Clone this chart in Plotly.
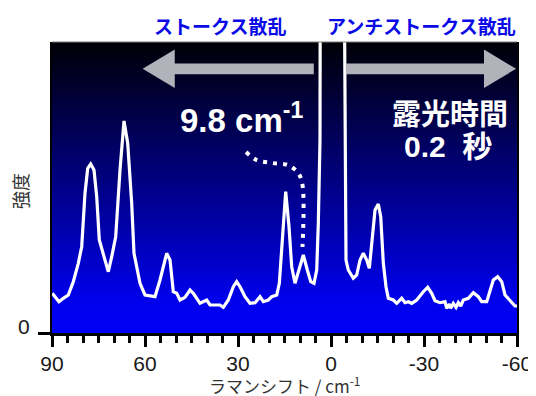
import plotly.graph_objects as go
import numpy as np

# Raman shift (cm^-1) and intensity (arb. units)
shift = [89.90, 87.74, 86.35, 84.74, 83.13, 81.52, 80.42, 79.35, 78.48, 77.52,
         76.45, 75.58, 74.74, 73.13, 71.84, 70.74, 69.45, 68.06, 66.77, 65.58,
         64.29, 63.55, 61.61, 60.00, 56.77, 55.16, 53.00, 51.93, 50.87, 49.77,
         48.71, 47.10, 45.48, 44.42, 42.26, 40.09, 39.03, 35.80, 34.74, 33.13,
         31.51, 30.42, 29.35, 27.74, 26.13, 24.51, 22.90, 21.84, 20.22, 19.13,
         17.51, 16.67, 15.90, 14.61, 13.55, 12.68, 11.61, 10.22, 8.93, 7.64,
         6.54, 5.48, 4.61, 4.09, 3.55, 3.40, -0.30, -4.00, -4.52, -4.84,
         -5.58, -7.20, -8.29, -9.36, -10.42, -11.52, -12.36, -13.13, -14.20, -15.26,
         -16.04, -16.88, -17.74, -18.49, -20.10, -21.20, -22.81, -23.88, -24.94, -26.04,
         -27.65, -29.78, -31.20, -32.49, -33.55, -35.16, -36.78, -37.33, -38.17, -38.62,
         -39.46, -40.33, -41.07, -41.84, -42.68, -44.30, -45.91, -47.52, -48.62, -50.23,
         -51.07, -52.36, -53.78, -55.07, -56.13, -57.74, -59.36, -60.00]
intensity = [39.7, 31.3, 34.7, 38.0, 51.3, 69.7, 86.3, 140.0, 164.7, 169.0,
             163.0, 136.3, 93.0, 76.3, 61.3, 76.3, 96.3, 163.0, 212.0, 189.7,
             129.7, 79.7, 49.7, 38.0, 36.3, 53.0, 79.7, 73.0, 41.3, 39.7,
             33.0, 35.7, 43.0, 39.7, 29.7, 33.0, 28.0, 28.0, 25.7, 33.0,
             46.3, 51.3, 46.3, 36.3, 29.7, 30.3, 36.3, 31.3, 33.0, 36.3,
             38.0, 49.7, 86.3, 141.3, 106.3, 66.3, 49.7, 64.7, 78.0, 63.0,
             51.3, 49.7, 63.0, 109.7, 193.0, 500.0, 900.0, 500.0, 153.0, 73.0,
             63.0, 54.7, 58.0, 73.0, 79.7, 73.0, 64.7, 86.3, 123.0, 129.0,
             116.3, 69.7, 46.3, 34.7, 33.0, 29.7, 34.7, 30.3, 31.3, 29.7,
             33.0, 41.3, 45.7, 39.7, 32.3, 30.3, 31.3, 24.7, 29.0, 24.7,
             29.7, 25.7, 30.3, 27.0, 33.0, 34.7, 40.3, 36.3, 31.3, 31.3,
             39.7, 53.0, 56.3, 51.3, 38.0, 32.3, 27.0, 27.0]

# dotted guide pointing to the 9.8 cm^-1 band
guide_x = [27.4, 24.0, 19.0, 14.0, 10.6, 9.2, 9.2]
guide_y = [181, 173, 170, 168, 160, 148, 86]

x_range = [90, -60]
y_range = [0, 291]
x_tickvals = [90, 60, 30, 0, -30, -60]
x_ticktext = ["90", "60", "30", "0", "-30", "-60"]

fig = go.Figure()

# gradient background
bg_y = np.linspace(-5, 296, 60)
bg_z = [[v, v] for v in bg_y]
fig.add_trace(go.Heatmap(
    x=[95, -65], y=bg_y, z=bg_z, zsmooth="best", showscale=False,
    colorscale=[[0, "#0000f8"], [0.12, "#0000ea"], [1, "#000006"]],
    zmin=0, zmax=291, hoverinfo="skip"))

fig.add_trace(go.Scatter(x=shift, y=intensity, mode="lines",
                         line=dict(color="white", width=3.2), hoverinfo="skip"))
fig.add_trace(go.Scatter(x=guide_x, y=guide_y, mode="lines",
                         line=dict(color="white", width=4, dash="4px,6px", shape="spline"),
                         hoverinfo="skip"))

arrow_col = "#b2b2ba"
def arrow(tip, hb, end, yc=0.908, yt=0.974, yb=0.842, st=0.926, sb=0.889):
    return (f"M {tip},{yc} L {hb},{yt} L {hb},{st} L {end},{st} L {end},{sb} "
            f"L {hb},{sb} L {hb},{yb} Z")

fig.add_shape(type="path", xref="paper", yref="paper",
              path=arrow(0.195, 0.264, 0.563), fillcolor=arrow_col, line=dict(width=0))
fig.add_shape(type="path", xref="paper", yref="paper",
              path=arrow(0.998, 0.929, 0.632), fillcolor=arrow_col, line=dict(width=0))
fig.add_shape(type="line", xref="paper", yref="paper", x0=0, x1=1, y0=1, y1=1,
              line=dict(color="#7a7a7a", width=1))

jp = "Noto Sans CJK JP"
latin_bold = "Liberation Sans, Noto Sans CJK JP"
ann = [
    dict(text="<b>ストークス散乱</b>", x=0.361, y=1.056, font=dict(family=jp, size=19, color="#0a0ae6")),
    dict(text="<b>アンチストークス散乱</b>", x=0.795, y=1.056, font=dict(family=jp, size=19, color="#0a0ae6")),
    dict(text="<b>9.8 cm<sup>-1</sup></b>", x=0.27, y=0.739, xanchor="left",
         font=dict(family=latin_bold, size=33, color="white")),
    dict(text="<b>露光時間</b>", x=0.856, y=0.760, font=dict(family=jp, size=29, color="white")),
    dict(text="<b>0.2&nbsp;&nbsp;秒</b>", x=0.852, y=0.642, font=dict(family=latin_bold, size=30, color="white")),
    dict(text="強度", x=-0.069, y=0.488, textangle=-90, font=dict(family=jp, size=18, color="#333333")),
    dict(text="ラマンシフト / cm<sup>-1</sup>", x=0.5, y=-0.177,
         font=dict(family=jp, size=17, color="#333333")),
    dict(text="0", x=-0.060, y=0.024, font=dict(family="Liberation Sans", size=21, color="#1a1a1a")),
]
for a in ann:
    a.setdefault("xanchor", "center")
    fig.add_annotation(xref="paper", yref="paper", yanchor="middle", showarrow=False, **a)

fig.update_layout(
    template="none",
    width=528, height=388,
    margin=dict(l=44, r=19, t=34, b=63),
    paper_bgcolor="white", plot_bgcolor="#0000f0",
    showlegend=False,
    xaxis=dict(range=x_range, tickvals=x_tickvals, ticktext=x_ticktext, automargin=False,
               ticks="outside", ticklen=11, tickwidth=3, tickcolor="black",
               ticklabelstandoff=-1, ticklabeloverflow="allow",
               showline=True, linecolor="black", linewidth=3, showgrid=False, zeroline=False,
               minor=dict(dtick=5, tick0=0, ticks="outside", ticklen=7, tickwidth=2.5,
                          tickcolor="black", showgrid=False),
               tickfont=dict(family="Liberation Sans", size=21, color="#1a1a1a")),
    yaxis=dict(range=y_range, tickvals=[0], showticklabels=False, ticks="outside", ticklen=12,
               automargin=False,
               tickwidth=3, tickcolor="black", showline=True, linecolor="black",
               linewidth=2, mirror=True, showgrid=False, zeroline=False),
)

fig.write_html("out.html")
